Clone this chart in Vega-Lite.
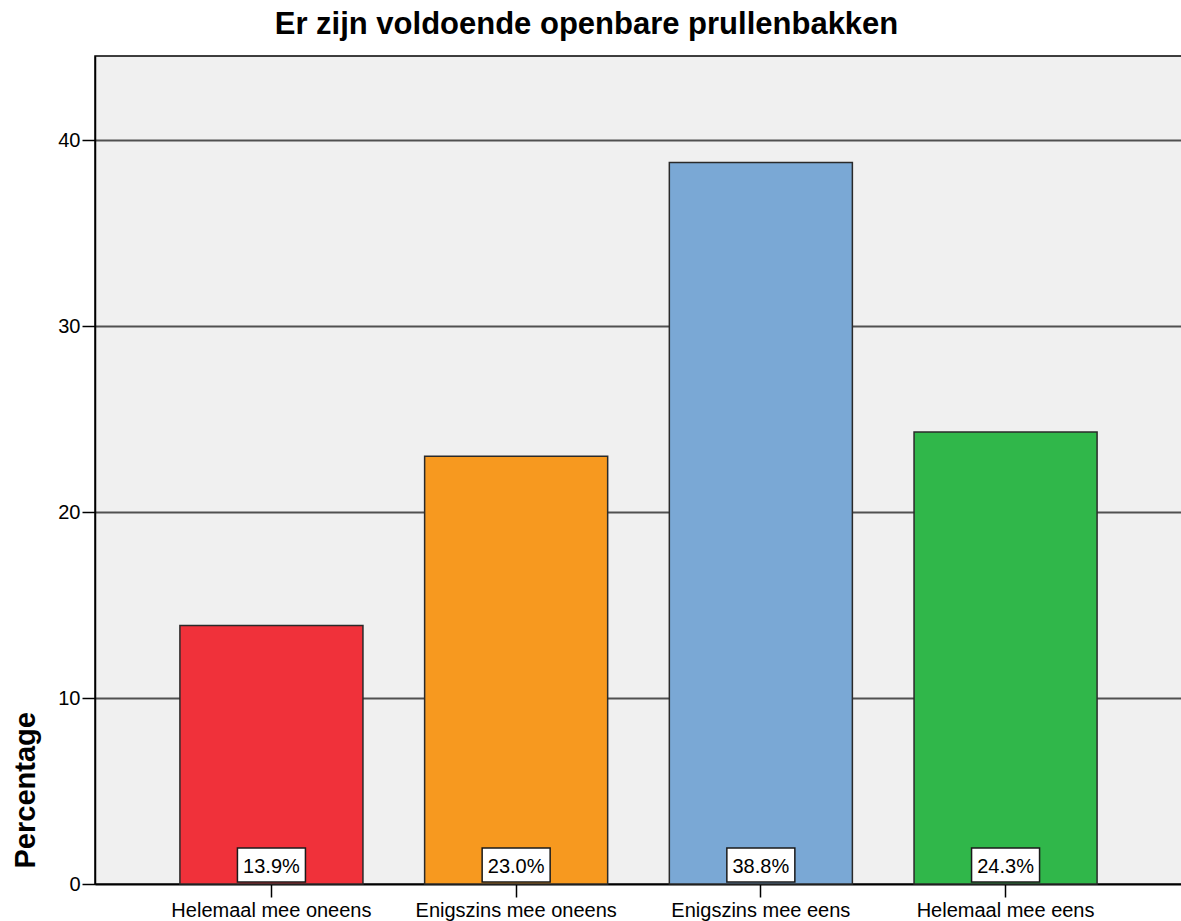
{
  "$schema": "https://vega.github.io/schema/vega-lite/v6.json",
  "autosize": "none",
  "width": 1087,
  "height": 828,
  "padding": {"left": 95, "top": 56, "right": 0, "bottom": 37},
  "background": "white",
  "title": {
    "text": "Er zijn voldoende openbare prullenbakken",
    "font": "Liberation Sans",
    "fontSize": 31,
    "fontWeight": "bold",
    "color": "black",
    "anchor": "middle",
    "frame": "group",
    "dx": -52,
    "dy": 31,
    "baseline": "alphabetic",
    "offset": 22
  },
  "config": {
    "view": {"fill": "#f0f0f0", "stroke": "black", "strokeWidth": 1.5},
    "axis": {
      "labelFont": "Liberation Sans",
      "labelFontSize": 20,
      "labelColor": "black",
      "labelLimit": 0,
      "domainColor": "black",
      "domainWidth": 1.5,
      "tickColor": "black",
      "tickWidth": 1.5,
      "tickSize": 13
    }
  },
  "data": {
    "values": [
      {"cat": "Helemaal mee oneens", "pct": 13.9, "label": "13.9%"},
      {"cat": "Enigszins mee oneens", "pct": 23.0, "label": "23.0%"},
      {"cat": "Enigszins mee eens", "pct": 38.8, "label": "38.8%"},
      {"cat": "Helemaal mee eens", "pct": 24.3, "label": "24.3%"}
    ]
  },
  "encoding": {
    "x": {
      "field": "cat",
      "type": "nominal",
      "sort": null,
      "scale": {"paddingInner": 0.252, "paddingOuter": 0.347},
      "axis": {"title": null, "labelAngle": 0, "labelPadding": 3, "grid": false}
    }
  },
  "layer": [
    {
      "mark": {"type": "bar", "stroke": "#2a2a2a", "strokeWidth": 1.5},
      "encoding": {
        "y": {
          "field": "pct",
          "type": "quantitative",
          "scale": {"domain": [0, 44.52], "nice": false},
          "axis": {
            "values": [0, 10, 20, 30, 40],
            "grid": true,
            "gridColor": "#505050",
            "gridWidth": 2,
            "labelPadding": 2,
            "title": "Percentage",
            "titleFont": "Liberation Sans",
            "titleFontSize": 29,
            "titleFontWeight": "bold",
            "titleColor": "black",
            "titleAngle": 270,
            "titleAlign": "left",
            "titleBaseline": "alphabetic",
            "titleX": -61,
            "titleY": 812
          }
        },
        "color": {
          "field": "cat",
          "type": "nominal",
          "sort": null,
          "scale": {
            "domain": ["Helemaal mee oneens", "Enigszins mee oneens", "Enigszins mee eens", "Helemaal mee eens"],
            "range": ["#f0313a", "#f7991f", "#7aa8d5", "#30b74a"]
          },
          "legend": null
        }
      }
    },
    {
      "mark": {"type": "bar", "width": 68, "fill": "white", "stroke": "#1a1a1a", "strokeWidth": 1.5},
      "encoding": {
        "y": {"datum": 0.11},
        "y2": {"datum": 1.94}
      }
    },
    {
      "mark": {"type": "text", "font": "Liberation Sans", "fontSize": 20, "color": "black", "baseline": "alphabetic", "dy": -11},
      "encoding": {
        "y": {"datum": 0},
        "text": {"field": "label"}
      }
    }
  ]
}
